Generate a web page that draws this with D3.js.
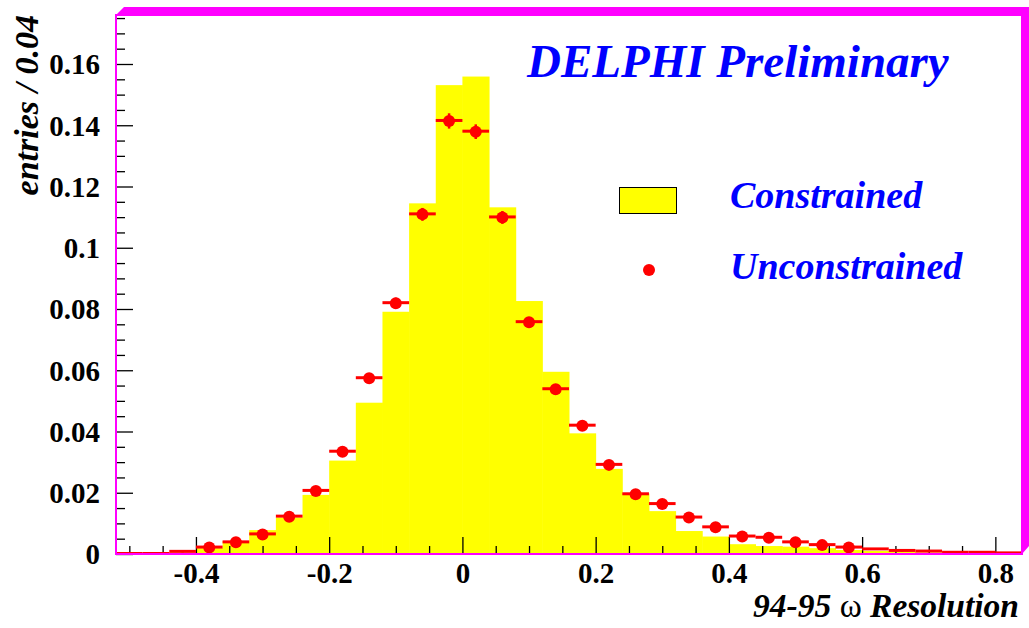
<!DOCTYPE html>
<html>
<head>
<meta charset="utf-8">
<script src="https://cdn.jsdelivr.net/npm/d3@7"></script>
<style>
  body { margin: 0; background: #ffffff; }
  svg { display: block; }
</style>
</head>
<body>
<div id="chart"></div>
<script>
// bin centres (bin width 0.04)
const binCenters = [-0.50, -0.46, -0.42, -0.38, -0.34, -0.30, -0.26, -0.22, -0.18, -0.14,
  -0.10, -0.06, -0.02, 0.02, 0.06, 0.10, 0.14, 0.18, 0.22, 0.26,
  0.30, 0.34, 0.38, 0.42, 0.46, 0.50, 0.54, 0.58, 0.62, 0.66,
  0.70, 0.74, 0.78, 0.82];
const binWidth = 0.04;

// yellow histogram
const constrained = [0, 0, 0.0005, 0.0019, 0.0042, 0.0078, 0.0119, 0.0193, 0.0305, 0.0494,
  0.0791, 0.1145, 0.1531, 0.1559, 0.1132, 0.0826, 0.0595, 0.0394, 0.0278, 0.0198,
  0.0140, 0.0075, 0.0057, 0.0032, 0.0026, 0.0024, 0.0019, 0.0013, 0.0010, 0.0007,
  0.0005, 0.0003, 0.0002, 0.0001];

// red points
const unconstrained = [0, 0, 0.0007, 0.0021, 0.0038, 0.0064, 0.0122, 0.0206, 0.0334, 0.0574,
  0.0819, 0.1109, 0.1414, 0.1379, 0.1099, 0.0757, 0.0538, 0.0419, 0.0291, 0.0195,
  0.0163, 0.0119, 0.0087, 0.0057, 0.0053, 0.0038, 0.0029, 0.0021, 0.0015, 0.0010,
  0.0008, 0.0004, 0.0004, 0.0002];
const unconstrainedErr = [0, 0, 0.0002, 0.0003, 0.0004, 0.0005, 0.0007, 0.0009, 0.0011, 0.0015,
  0.0018, 0.0021, 0.0025, 0.0024, 0.0021, 0.0017, 0.0015, 0.0013, 0.0011, 0.0009,
  0.0008, 0.0007, 0.0006, 0.0005, 0.0005, 0.0004, 0.0003, 0.0003, 0.0002, 0.0002,
  0.0002, 0.0001, 0.0001, 0.0001];
const markerMin = 0.0018; // no marker drawn below this

const yMajor = [0, 0.02, 0.04, 0.06, 0.08, 0.1, 0.12, 0.14, 0.16];
const yMinor = [0.005, 0.01, 0.015, 0.025, 0.03, 0.035, 0.045, 0.05, 0.055, 0.065, 0.07, 0.075,
  0.085, 0.09, 0.095, 0.105, 0.11, 0.115, 0.125, 0.13, 0.135, 0.145, 0.15, 0.155, 0.165, 0.17, 0.175];
const xMajor = [-0.4, -0.2, 0, 0.2, 0.4, 0.6, 0.8];
const xMinor = [-0.5, -0.45, -0.35, -0.3, -0.25, -0.15, -0.1, -0.05, 0.05, 0.1, 0.15,
  0.25, 0.3, 0.35, 0.45, 0.5, 0.55, 0.65, 0.7, 0.75];

const titleText = "DELPHI Preliminary";
const legendLabels = ["Constrained", "Unconstrained"];

const width = 1029, height = 628;
const plot = {left: 116, top: 15, right: 1022, bottom: 554};
const magenta = "#ff00ff";
const serif = "Liberation Serif";

const svg = d3.select("#chart").append("svg")
  .attr("width", width)
  .attr("height", height);

const x = d3.scaleLinear().domain([-0.52, 0.84]).range([plot.left, plot.right]);
const y = d3.scaleLinear().domain([0, 0.176]).range([plot.bottom, plot.top]);

// yellow bars
svg.append("g").selectAll("rect")
  .data(binCenters)
  .join("rect")
  .attr("x", (d) => x(d - binWidth / 2))
  .attr("width", x(binWidth) - x(0) + 0.5)
  .attr("y", (d, i) => y(constrained[i]))
  .attr("height", (d, i) => y(0) - y(constrained[i]))
  .attr("fill", "#ffff00");

// axes with inward ticks
const fmt = (d) => String(+d.toFixed(2));
const yAxis = svg.append("g")
  .attr("transform", `translate(${plot.left},0)`)
  .call(d3.axisLeft(y).tickValues(yMajor).tickSize(-17).tickPadding(16).tickFormat(fmt));
svg.append("g")
  .attr("transform", `translate(${plot.left},0)`)
  .call(d3.axisLeft(y).tickValues(yMinor).tickSize(-9).tickFormat(""));
const xAxis = svg.append("g")
  .attr("transform", `translate(0,${plot.bottom})`)
  .call(d3.axisBottom(x).tickValues(xMajor).tickSize(-17).tickPadding(9).tickFormat(fmt));
svg.append("g")
  .attr("transform", `translate(0,${plot.bottom})`)
  .call(d3.axisBottom(x).tickValues(xMinor).tickSize(-8).tickFormat(""));

svg.selectAll(".domain").remove();
svg.selectAll(".tick line").attr("stroke", "#000").attr("stroke-width", 1.3);
svg.selectAll(".tick text")
  .attr("font-family", serif)
  .attr("font-size", 29)
  .attr("font-weight", "bold")
  .attr("fill", "#000");
yAxis.selectAll(".tick text").attr("dy", "0.34em");
xAxis.selectAll(".tick text").attr("dy", "0.7em");

// red points with horizontal bin-width bars and vertical errors
const pts = svg.append("g");
pts.selectAll("line.h")
  .data(binCenters)
  .join("line")
  .attr("class", "h")
  .attr("x1", (d) => x(d - binWidth / 2))
  .attr("x2", (d) => x(d + binWidth / 2))
  .attr("y1", (d, i) => y(unconstrained[i]) - 0.5)
  .attr("y2", (d, i) => y(unconstrained[i]) - 0.5)
  .attr("stroke", "#ff0000")
  .attr("stroke-width", 3);
pts.selectAll("line.v")
  .data(binCenters)
  .join("line")
  .attr("class", "v")
  .attr("x1", (d) => x(d))
  .attr("x2", (d) => x(d))
  .attr("y1", (d, i) => y(unconstrained[i] - unconstrainedErr[i]))
  .attr("y2", (d, i) => y(unconstrained[i] + unconstrainedErr[i]))
  .attr("stroke", "#ff0000")
  .attr("stroke-width", 2.5);
pts.selectAll("circle")
  .data(binCenters.filter((d, i) => unconstrained[i] > markerMin))
  .join("circle")
  .attr("cx", (d) => x(d))
  .attr("cy", (d) => y(unconstrained[binCenters.indexOf(d)]))
  .attr("r", 6)
  .attr("fill", "#ff0000");

// frame: thin magenta left/bottom, thick raised top/right
svg.append("rect")
  .attr("x", plot.left)
  .attr("y", plot.top)
  .attr("width", plot.right - plot.left)
  .attr("height", plot.bottom - plot.top)
  .attr("fill", "none")
  .attr("stroke", magenta)
  .attr("stroke-width", 2);
svg.append("polygon")
  .attr("points", [
    [plot.left, plot.top], [plot.left + 8, plot.top - 8], [width, plot.top - 8],
    [width, plot.bottom - 8], [plot.right, plot.bottom], [plot.right, plot.top]
  ].map((p) => p.join(",")).join(" "))
  .attr("fill", magenta);

function label(sel, size) {
  return sel.attr("font-family", serif)
    .attr("font-size", size)
    .attr("font-weight", "bold")
    .attr("font-style", "italic");
}

// title
label(svg.append("text"), 47)
  .attr("x", 527)
  .attr("y", 77)
  .attr("fill", "#0000ff")
  .text(titleText);

// legend
svg.append("rect")
  .attr("x", 619.5).attr("y", 187.5)
  .attr("width", 57).attr("height", 26)
  .attr("fill", "#ffff00")
  .attr("stroke", "#000")
  .attr("stroke-width", 1);
svg.append("circle")
  .attr("cx", 649).attr("cy", 270)
  .attr("r", 6)
  .attr("fill", "#ff0000");
label(svg.selectAll("text.legend")
  .data(legendLabels)
  .join("text")
  .attr("class", "legend"), 38)
  .attr("x", 730)
  .attr("y", (d, i) => 208 + i * 71)
  .attr("fill", "#0000ff")
  .text((d) => d);

// axis titles
label(svg.append("text"), 34)
  .attr("transform", "translate(38,15) rotate(-90)")
  .attr("text-anchor", "end")
  .attr("fill", "#000")
  .text("entries / 0.04");

const xt = label(svg.append("text"), 33.5)
  .attr("x", 1019)
  .attr("y", 617)
  .attr("text-anchor", "end")
  .attr("fill", "#000");
xt.append("tspan").text("94-95 ");
xt.append("tspan").attr("font-style", "normal").attr("font-weight", "normal").text("ω");
xt.append("tspan").text(" Resolution");
</script>
</body>
</html>
